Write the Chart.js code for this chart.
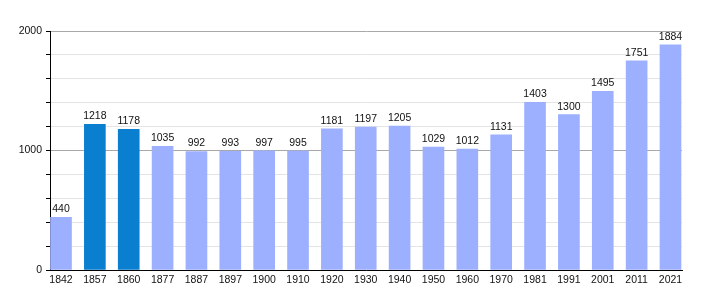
<!DOCTYPE html>
<html>
<head>
<meta charset="utf-8">
<script src="https://cdn.jsdelivr.net/npm/chart.js@4/dist/chart.umd.min.js"></script>
<style>
html,body{margin:0;padding:0;background:#fff;}
#wrap{width:710px;height:300px;}
</style>
</head>
<body>
<div id="wrap"><canvas id="c" width="710" height="300"></canvas></div>
<script>
const years = ['1842','1857','1860','1877','1887','1897','1900','1910','1920','1930','1940','1950','1960','1970','1981','1991','2001','2011','2021'];
const population = [440,1218,1178,1035,992,993,997,995,1181,1197,1205,1029,1012,1131,1403,1300,1495,1751,1884];
const highlighted = ['1857','1860'];
const yTickLabels = [0,1000,2000];

const points = population.map((v,i)=>({x:i,y:v}));
const colors = years.map(y => highlighted.includes(y) ? '#0b7fcf' : '#9db0ff');
const FONT = "'Liberation Sans', Arial, sans-serif";

const labelPlugin = {
  id:'valueLabels',
  afterDatasetsDraw(chart){
    const ctx = chart.ctx;
    const meta = chart.getDatasetMeta(0);
    ctx.save();
    ctx.font = "10.5px " + FONT;
    ctx.fillStyle = '#111';
    ctx.textAlign = 'center';
    ctx.textBaseline = 'alphabetic';
    meta.data.forEach((bar,i)=>{
      ctx.fillText(String(population[i]), bar.x, bar.y - 5);
    });
    ctx.restore();
  }
};

new Chart(document.getElementById('c'), {
  type:'bar',
  data:{
    datasets:[{
      data:points,
      backgroundColor:colors,
      borderWidth:0,
      barThickness:21
    }]
  },
  options:{
    responsive:false,
    animation:false,
    devicePixelRatio:1,
    layout:{padding:{left:0,top:31,right:28,bottom:0}},
    plugins:{legend:{display:false},tooltip:{enabled:false}},
    scales:{
      x:{
        type:'linear',
        min:-0.325,
        max:18.34,
        offset:false,
        grid:{display:false,drawTicks:false},
        border:{display:true,color:'#000',width:1},
        ticks:{
          stepSize:1,
          includeBounds:false,
          autoSkip:false,
          maxRotation:0,
          padding:4,
          color:'#111',
          font:{family:FONT,size:10.5},
          callback:(v)=> Number.isInteger(v) && v>=0 && v<years.length ? years[v] : ''
        },
        afterFit:(s)=>{s.height = 30;}
      },
      y:{
        min:0,
        max:2000,
        grid:{
          color:(c)=> (c.tick && yTickLabels.includes(c.tick.value)) ? '#a8a8a8' : '#e4e4e4',
          tickColor:'#000',
          tickLength:4,
          drawTicks:true
        },
        border:{display:true,color:'#000',width:1},
        ticks:{
          stepSize:200,
          padding:4,
          color:'#111',
          font:{family:FONT,size:10.5},
          callback:(v)=> yTickLabels.includes(v) ? String(v) : ''
        },
        afterFit:(s)=>{s.width = 50;}
      }
    }
  },
  plugins:[labelPlugin]
});
</script>
</body>
</html>
